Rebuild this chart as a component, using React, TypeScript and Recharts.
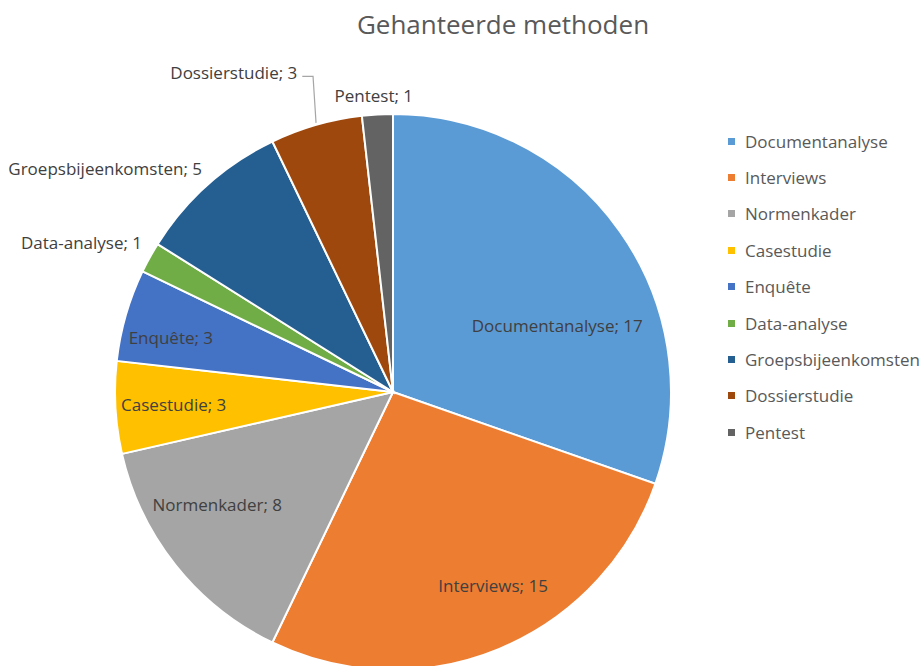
import React from "react";
import { PieChart, Pie, Cell, Legend } from "recharts";

const categories = [
  "Documentanalyse",
  "Interviews",
  "Normenkader",
  "Casestudie",
  "Enquête",
  "Data-analyse",
  "Groepsbijeenkomsten",
  "Dossierstudie",
  "Pentest",
];
const counts = [17, 15, 8, 3, 3, 1, 5, 3, 1];
const colors = [
  "#5B9BD5",
  "#ED7D31",
  "#A5A5A5",
  "#FFC000",
  "#4472C4",
  "#70AD47",
  "#255E91",
  "#9E480E",
  "#636363",
];

const data = categories.map((name, i) => ({ name, value: counts[i] }));

// label placement: radius factor, angle nudge (deg), anchor, leader line
const placement: Record<string, { r: number; da: number; anchor: string; leader?: boolean }> = {
  Documentanalyse: { r: 0.638, da: -13.2, anchor: "middle" },
  Interviews: { r: 0.785, da: 4.8, anchor: "middle" },
  Normenkader: { r: 0.75, da: -6, anchor: "middle" },
  Casestudie: { r: 0.79, da: 0, anchor: "middle" },
  "Enquête": { r: 0.823, da: 2.2, anchor: "middle" },
  "Data-analyse": { r: 1.05, da: -1.8, anchor: "end" },
  Groepsbijeenkomsten: { r: 1.058, da: -1.3, anchor: "end" },
  Dossierstudie: { r: 1.2, da: 0.6, anchor: "end", leader: true },
  Pentest: { r: 1.067, da: 0.5, anchor: "middle" },
};

const RAD = Math.PI / 180;
const FONT = "'Open Sans', sans-serif";

const renderLabel = (props: any) => {
  const { cx, cy, midAngle, outerRadius, name, value } = props;
  const p = placement[name];
  const a = (midAngle + p.da) * RAD;
  const x = cx + outerRadius * p.r * Math.cos(a);
  const y = cy - outerRadius * p.r * Math.sin(a);
  let leader = null;
  if (p.leader) {
    const ex = cx + outerRadius * Math.cos(midAngle * RAD);
    const ey = cy - outerRadius * Math.sin(midAngle * RAD);
    leader = (
      <polyline
        points={`${x + 5},${y + 4} ${ex - 3},${y + 4} ${ex},${ey - 2}`}
        fill="none"
        stroke="#A6A6A6"
        strokeWidth={1.2}
      />
    );
  }
  return (
    <g>
      {leader}
      <text
        x={x}
        y={y}
        textAnchor={p.anchor}
        dominantBaseline="central"
        fill="#404040"
        fontSize={17}
        fontFamily={FONT}
      >
        {`${name}; ${value}`}
      </text>
    </g>
  );
};

const renderLegend = (props: any) => {
  const payload = [...(props.payload || [])].sort(
    (a: any, b: any) => categories.indexOf(a.value) - categories.indexOf(b.value)
  );
  return (
    <div style={{ fontFamily: FONT }}>
      {payload.map((entry: any, index: number) => (
        <div
          key={`legend-${index}`}
          style={{ display: "flex", alignItems: "center", height: 36.4 }}
        >
          <span
            style={{
              display: "inline-block",
              width: 7,
              height: 7,
              background: entry.color,
              marginRight: 10,
            }}
          />
          <span style={{ fontSize: 17, color: "#595959" }}>{entry.value}</span>
        </div>
      ))}
    </div>
  );
};

export default function App() {
  return (
    <div style={{ position: "absolute", left: 0, top: 0, width: 920, height: 666, background: "#fff", overflow: "hidden" }}>
      <div
        style={{
          position: "absolute",
          left: 0,
          width: 1006,
          top: 6,
          textAlign: "center",
          fontFamily: FONT,
          fontSize: 26,
          color: "#595959",
          zIndex: 2,
        }}
      >
        Gehanteerde methoden
      </div>
      <PieChart width={920} height={666} margin={{ top: 0, right: 0, bottom: 0, left: 0 }}>
        <Pie
          data={data}
          dataKey="value"
          nameKey="name"
          cx={393}
          cy={392}
          outerRadius={278}
          startAngle={90}
          endAngle={-270}
          stroke="#fff"
          strokeWidth={2}
          label={renderLabel}
          labelLine={false}
          isAnimationActive={false}
        >
          {data.map((entry, index) => (
            <Cell key={`cell-${index}`} fill={colors[index]} />
          ))}
        </Pie>
        <Legend
          layout="vertical"
          align="right"
          verticalAlign="top"
          content={renderLegend}
          wrapperStyle={{ left: 728, top: 123, width: 192 }}
        />
      </PieChart>
    </div>
  );
}
